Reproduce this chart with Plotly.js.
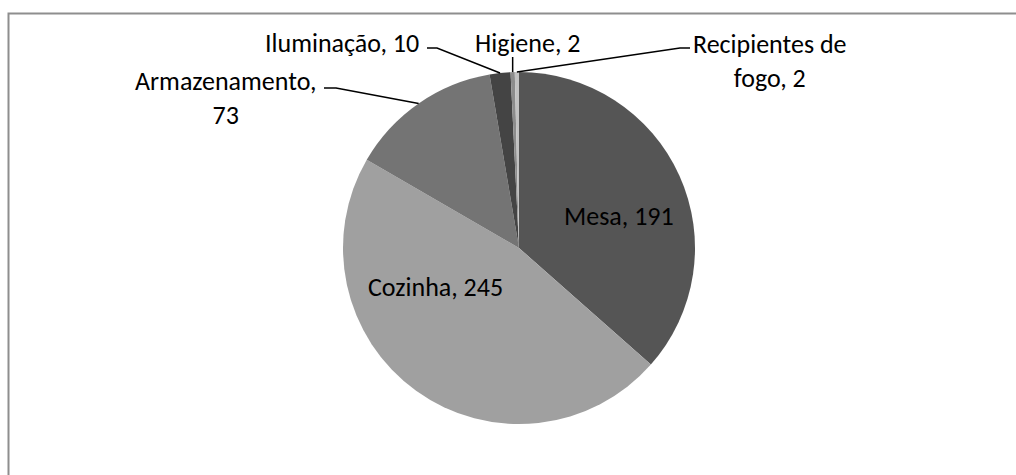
<!DOCTYPE html>
<html>
<head>
<meta charset="utf-8">
<script src="https://cdn.plot.ly/plotly-3.0.1.min.js"></script>
<style>
  html, body { margin: 0; padding: 0; background: #ffffff; }
  #chart { width: 1016px; height: 475px; }
</style>
</head>
<body>
<div id="chart"></div>
<script>
// ---- data ----
const categories = ['Mesa', 'Cozinha', 'Armazenamento', 'Iluminação', 'Higiene', 'Recipientes de fogo'];
const values = [191, 245, 73, 10, 2, 2];
// break the label after the n-th space (0 = no break)
const labelWrap = [0, 0, 1, 0, 0, 2];

// ---- style / layout config ----
const W = 1016, H = 475;
const sliceColors = ['#555555', '#a0a0a0', '#747474', '#444444', '#8c8c8c', '#c2c2c2'];
const pieCenter = [519, 248];
const pieRadius = 176;
const FONT = 'Carlito, Calibri, Lato, "Liberation Sans", sans-serif';
const FONT_SIZE = 26;
// label anchor positions (px) and leader-line waypoints (px); final point is the pie edge
const labelPlacement = [
  {x: 619, y: 216, xa: 'center', ya: 'middle', lead: null},
  {x: 435, y: 287, xa: 'center', ya: 'middle', lead: null},
  {x: 225, y: 98, xa: 'center', ya: 'middle', lead: [[324, 88], [336, 88]]},
  {x: 421, y: 43, xa: 'right', ya: 'middle', lead: [[427, 48], [437, 48]]},
  {x: 527, y: 43, xa: 'center', ya: 'middle', lead: [['mid', 57]]},
  {x: 770, y: 61, xa: 'center', ya: 'middle', lead: [[690, 48], [680, 48]]}
];

function px(x) { return x / W; }
function py(y) { return 1 - y / H; }

function wrapLabel(text, n) {
  if (!n) return text;
  let count = 0;
  let out = '';
  for (const ch of text) {
    if (ch === ' ') {
      count++;
      if (count === n) { out += '<br>'; continue; }
    }
    out += ch;
  }
  return out;
}

const total = values.reduce((a, b) => a + b, 0);
let cum = 0;
const midAngles = values.map(v => { const m = (cum + v / 2) / total * 2 * Math.PI; cum += v; return m; });

const annotations = [];
const shapes = [];

// chart frame
shapes.push({
  type: 'rect', xref: 'paper', yref: 'paper',
  x0: px(8.5), x1: px(1030), y0: py(490), y1: py(13.5),
  line: {color: '#8e8e8e', width: 2}, fillcolor: 'rgba(0,0,0,0)', layer: 'below'
});

categories.forEach((cat, i) => {
  const p = labelPlacement[i];
  annotations.push({
    xref: 'paper', yref: 'paper', x: px(p.x), y: py(p.y),
    xanchor: p.xa, yanchor: p.ya, showarrow: false,
    text: wrapLabel(cat + ', ' + values[i], labelWrap[i]),
    align: 'center',
    font: {family: FONT, size: FONT_SIZE, color: '#000000'}
  });
  if (p.lead) {
    const a = midAngles[i];
    const ex = pieCenter[0] + pieRadius * Math.sin(a);
    const ey = pieCenter[1] - pieRadius * Math.cos(a);
    const pts = p.lead.map(q => [q[0] === 'mid' ? ex : q[0], q[1]]).concat([[ex, ey]]);
    const path = pts.map((q, k) => (k === 0 ? 'M ' : 'L ') + px(q[0]) + ' ' + py(q[1])).join(' ');
    shapes.push({
      type: 'path', xref: 'paper', yref: 'paper', path: path,
      line: {color: '#000000', width: 1.5}
    });
  }
});

const trace = {
  type: 'pie',
  labels: categories,
  values: values,
  sort: false,
  direction: 'clockwise',
  rotation: 0,
  textinfo: 'none',
  hoverinfo: 'label+value',
  marker: {colors: sliceColors, line: {width: 0}},
  domain: {
    x: [px(pieCenter[0] - pieRadius), px(pieCenter[0] + pieRadius)],
    y: [py(pieCenter[1] + pieRadius), py(pieCenter[1] - pieRadius)]
  },
  showlegend: false
};

const layout = {
  width: W, height: H,
  margin: {l: 0, r: 0, t: 0, b: 0},
  paper_bgcolor: '#ffffff',
  plot_bgcolor: '#ffffff',
  showlegend: false,
  annotations: annotations,
  shapes: shapes
};

Plotly.newPlot('chart', [trace], layout, {displayModeBar: false, staticPlot: true});
</script>
</body>
</html>
